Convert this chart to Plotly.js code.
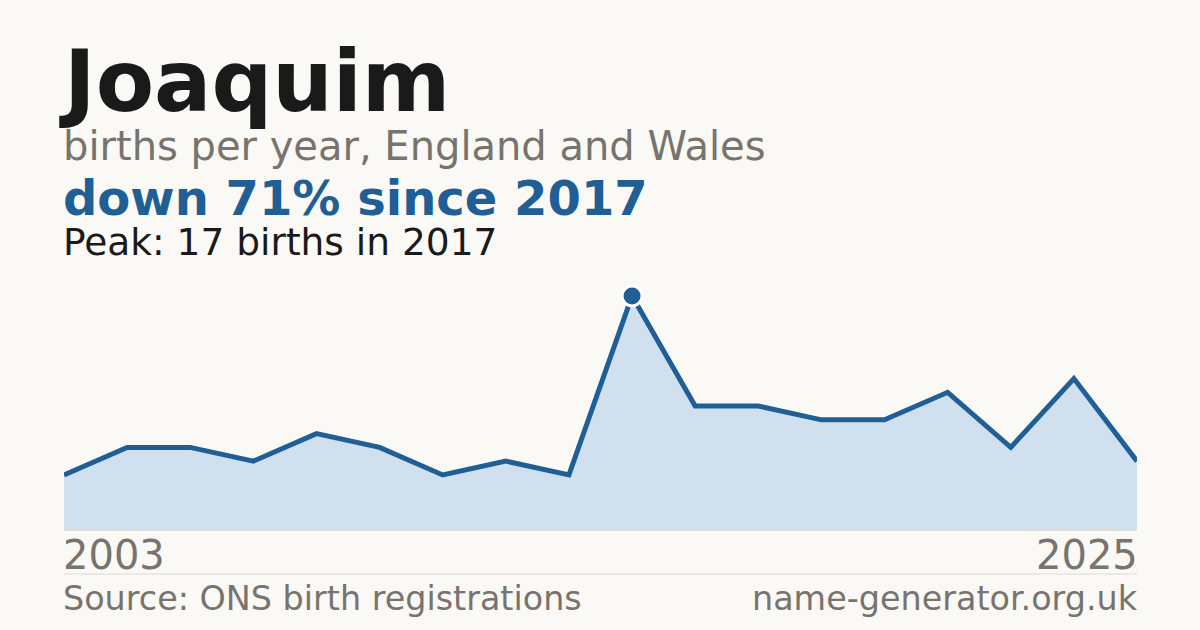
<!DOCTYPE html>
<html>
<head>
<meta charset="utf-8">
<script src="https://cdn.plot.ly/plotly-3.0.1.min.js"></script>
<style>
  html, body { margin: 0; padding: 0; background: #faf9f5; }
  #plot { width: 1200px; height: 630px; }
</style>
</head>
<body>
<div id="plot"></div>
<script>
// births per year (years with too few registrations are not published)
var years = [2003, 2005, 2006, 2007, 2009, 2010, 2012, 2014, 2016, 2017, 2018, 2019, 2020, 2021, 2022, 2023, 2024, 2025];
var births = [4, 6, 6, 5, 7, 6, 4, 5, 4, 17, 9, 9, 8, 8, 10, 6, 11, 5];

var peakIdx = births.indexOf(Math.max.apply(null, births));
var peakYear = years[peakIdx];
var peakVal = births[peakIdx];
var lastVal = births[births.length - 1];
var change = Math.round((1 - lastVal / peakVal) * 100);

var idx = births.map(function (v, i) { return i; });

var blue = '#1f5f96';
var grey = '#78736c';
var ink = '#1a1a1a';
var font = 'DejaVu Sans';

var H = 630, T = 280, B = 100;
// pixel row -> paper coordinate
function py(y) { return (H - B - y) / (H - T - B); }

var area = {
   x: idx,
   y: births,
   customdata: years,
   hovertemplate: '%{customdata}: %{y}<extra></extra>',
   type: 'scatter',
   mode: 'lines',
   fill: 'tozeroy',
   fillcolor: '#d0e0ef',
   line: {color: blue, width: 5}
};
var peak = {
   x: [peakIdx],
   y: [peakVal],
   type: 'scatter',
   mode: 'markers',
   hoverinfo: 'skip',
   cliponaxis: false,
   marker: {size: 20, color: blue, line: {color: '#ffffff', width: 3}}
};

function note(text, right, y, size, color, bold, shift) {
   return {
      text: bold ? '<b>' + text + '</b>' : text,
      x: right ? 1 : 0, y: py(y),
      xref: 'paper', yref: 'paper',
      xanchor: right ? 'right' : 'left', yanchor: 'middle',
      xshift: (right ? 3 : -3) + (shift || 0),
      showarrow: false,
      font: {family: font, size: size, color: color}
   };
}

var layout = {
   width: 1200,
   height: 630,
   paper_bgcolor: '#faf9f5',
   plot_bgcolor: '#faf9f5',
   margin: {l: 64, r: 63, t: T, b: B, pad: 0},
   showlegend: false,
   xaxis: {
      range: [0, births.length - 1],
      showgrid: false, zeroline: false, showticklabels: false, ticks: '',
      showline: true, linecolor: '#dcd9d3', linewidth: 1
   },
   yaxis: {
      range: [0, peakVal * 1.068],
      showgrid: false, zeroline: false, showticklabels: false, ticks: ''
   },
   shapes: [{
      type: 'line', xref: 'paper', yref: 'paper',
      x0: 0, x1: 1, y0: py(574), y1: py(574),
      line: {color: '#dcd9d3', width: 1}
   }],
   annotations: [
      note('Joaquim', false, 81, 85, ink, true, -4),
      note('births per year, England and Wales', false, 146, 40, grey, false),
      note('down ' + change + '% since ' + peakYear, false, 198, 48, blue, true),
      note('Peak: ' + peakVal + ' births in ' + peakYear, false, 242, 37.5, ink, false),
      note(String(years[0]), false, 555, 40, grey, false),
      note(String(years[years.length - 1]), true, 555, 40, grey, false),
      note('Source: ONS birth registrations', false, 598, 33.4, grey, false),
      note('name-generator.org.uk', true, 598, 33.4, grey, false)
   ]
};

Plotly.newPlot('plot', [area, peak], layout, {staticPlot: true, displayModeBar: false});
</script>
</body>
</html>
